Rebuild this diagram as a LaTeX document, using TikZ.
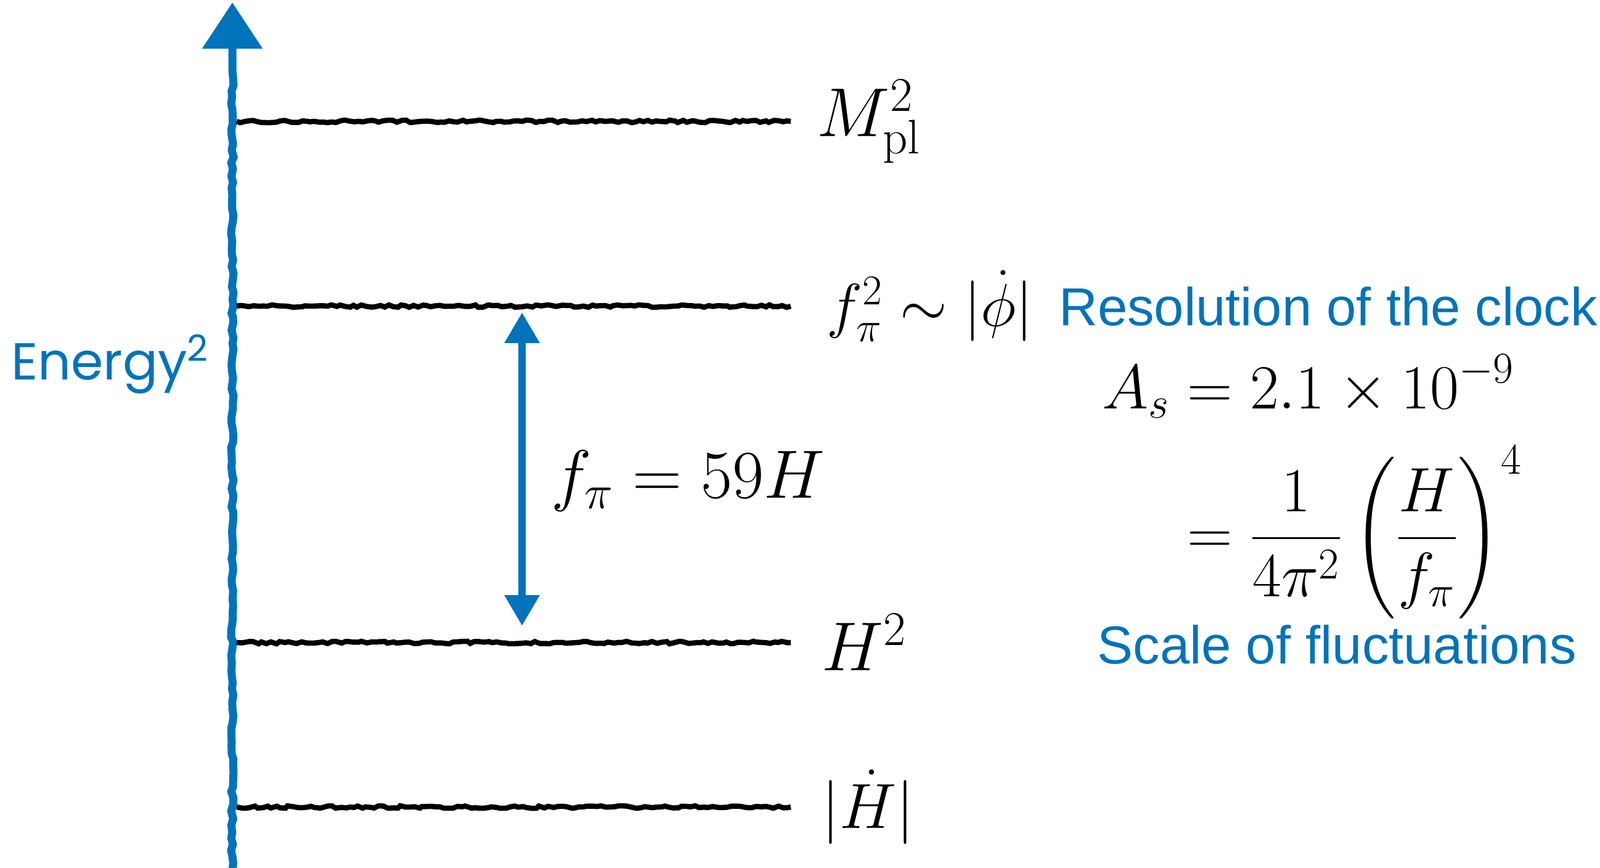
\RequirePackage{fix-cm}
\documentclass[tikz,border=0pt]{standalone}
\usepackage{amsmath}
\usepackage{fontspec}
\newfontfamily\helv{Liberation Sans}
\newfontfamily\handfont{Poppins}
\usepackage{tikz}
\usetikzlibrary{arrows.meta, positioning, decorations.pathmorphing}
\definecolor{clockblue}{RGB}{0,115,187}

\begin{document}
\begin{tikzpicture}[
    % hand-drawn look for the energy levels and the axis
    level/.style={draw=black, line width=0.085cm, decorate, decoration={random steps, segment length=2pt, amplitude=0.6pt}},
    axisline/.style={draw=clockblue, line width=0.13cm, decorate, decoration={random steps, segment length=3pt, amplitude=0.6pt, post length=1.1cm}, -{Triangle[width=0.95cm, length=0.75cm]}},
    span/.style={draw=clockblue, line width=0.125cm, {Triangle[width=0.54cm, length=0.5cm]}-{Triangle[width=0.54cm, length=0.5cm]}},
    lbl/.style={inner sep=0pt, font=\fontsize{#1}{#1}\selectfont},
    lbl/.default=28pt,
    note/.style={inner sep=0pt, text=clockblue, font=\helv\fontsize{24.7}{30}\selectfont},
    handtext/.style={inner sep=0pt, text=clockblue, font=\handfont\fontsize{24}{29}\selectfont}
]
    \useasboundingbox (0,0) rectangle (25.96,14.08);

    % --- axis ---
    \coordinate (axB) at (3.77,-0.05);
    \coordinate (axT) at (3.77,14.04);
    \draw[axisline] (axB) -- (axT);
    \node[handtext, anchor=east] (energy) at (3.40,8.17) {Energy\textsuperscript{2}};

    % --- levels ---
    \foreach \name/\y in {mpl/12.11, fpi/9.11, hub/3.65, hdot/0.98} {
        \coordinate (\name-l) at (3.84,\y);
        \coordinate (\name-r) at (12.83,\y);
        \draw[level] (\name-l) -- (\name-r);
    }
    \node[lbl=32pt, right=0.42cm of mpl-r] (mpl) {$M^2_{\rm pl}$};
    \node[lbl=28pt, right=0.58cm of fpi-r] (fpi) {$f_\pi^2\sim|\dot\phi|$};
    \node[lbl=32pt, right=0.50cm of hub-r] (hub) {$H^2$};
    \node[lbl=29.5pt, right=0.50cm of hdot-r] (hdot) {$|\dot H|$};

    % --- gap between f_pi^2 and H^2 ---
    \coordinate (gapT) at (8.47,9.01);
    \coordinate (gapB) at (8.47,3.92);
    \draw[span] (gapT) -- (gapB);
    \node[lbl=31.6pt, anchor=west] (ratio) at (8.94,6.27) {$f_\pi = 59H$};

    % --- right column ---
    \node[note, right=0.41cm of fpi] (res) {Resolution of the clock};
    \node[lbl=29pt, anchor=west] (amp) at (17.88,6.18) {$\begin{aligned}
        A_s &= 2.1\times10^{-9}\\[0.16cm]
            &= \frac{1}{4\pi^2}\left(\frac{H}{f_\pi}\right)^4
    \end{aligned}$};
    \node[note, anchor=west] (scale) at (17.80,3.62) {Scale of fluctuations};
\end{tikzpicture}
\end{document}
